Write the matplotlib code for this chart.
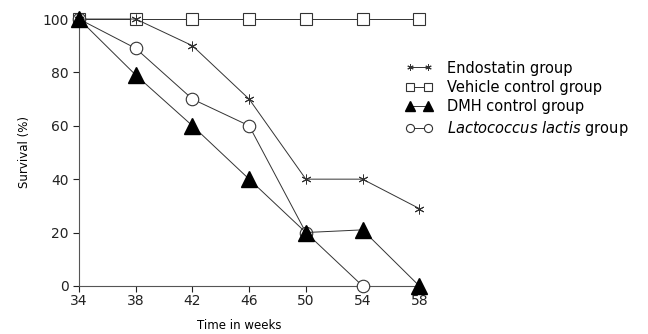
import matplotlib.pyplot as plt

plt.rcParams['font.family'] = ['DejaVu Sans']

weeks = [34, 38, 42, 46, 50, 54, 58]
endostatin = [100, 100, 90, 70, 40, 40, 29]
vehicle = [100, 100, 100, 100, 100, 100, 100]
dmh = [100, 79, 60, 40, 20, 21, 0]
lacto_weeks = [34, 38, 42, 46, 50, 54]
lactococcus = [100, 89, 70, 60, 20, 0]

fig = plt.figure(figsize=(6.48, 3.34), dpi=100)
ax = fig.add_axes([0.122, 0.144, 0.525, 0.799])

lc = '#333333'
ax.plot(weeks, vehicle, color=lc, lw=0.7, marker='s', ms=8.5, mfc='white',
        mec=lc, mew=0.8, label='Vehicle control group', zorder=3)
ax.plot(lacto_weeks, lactococcus, color=lc, lw=0.7, marker='o', ms=9, mfc='white',
        mec=lc, mew=0.8, label=r'$\it{Lactococcus\ lactis}$ group', zorder=4)
ax.plot(weeks, endostatin, color=lc, lw=0.7, marker=(6, 2, 0), ms=7, mec=lc,
        mew=0.7, label='Endostatin group', zorder=5)
ax.plot(weeks, dmh, color=lc, lw=0.7, marker='^', ms=11, mfc='black', mec='black',
        label='DMH control group', zorder=6)

ax.set_xlim(34, 58)
ax.set_ylim(0, 100)
ax.set_xticks(weeks)
ax.set_yticks([0, 20, 40, 60, 80, 100])
ax.tick_params(direction='out', length=4, width=0.8, labelsize=10, colors='#222222')
ax.tick_params(axis='x', pad=2)
for side in ['top', 'right']:
    ax.spines[side].set_visible(False)
for side in ['left', 'bottom']:
    ax.spines[side].set_linewidth(0.8)
    ax.spines[side].set_color('#555555')
for ln in ax.lines:
    ln.set_clip_on(False)

ax.set_xlabel('Time in weeks', fontsize=8.5)
ax.set_ylabel('Survival (%)', fontsize=8.5, labelpad=8)
ax.xaxis.set_label_coords(0.47, -0.125)

h, l = ax.get_legend_handles_labels()
order = [2, 0, 3, 1]
leg = fig.legend([h[i] for i in order], [l[i] for i in order],
                 loc='upper left', bbox_to_anchor=(0.605, 0.858), frameon=False,
                 fontsize=10.5, numpoints=2, handlelength=1.9, handletextpad=1.0,
                 labelspacing=0.3, markerscale=0.65)

fig.savefig('out.png', dpi=100)
